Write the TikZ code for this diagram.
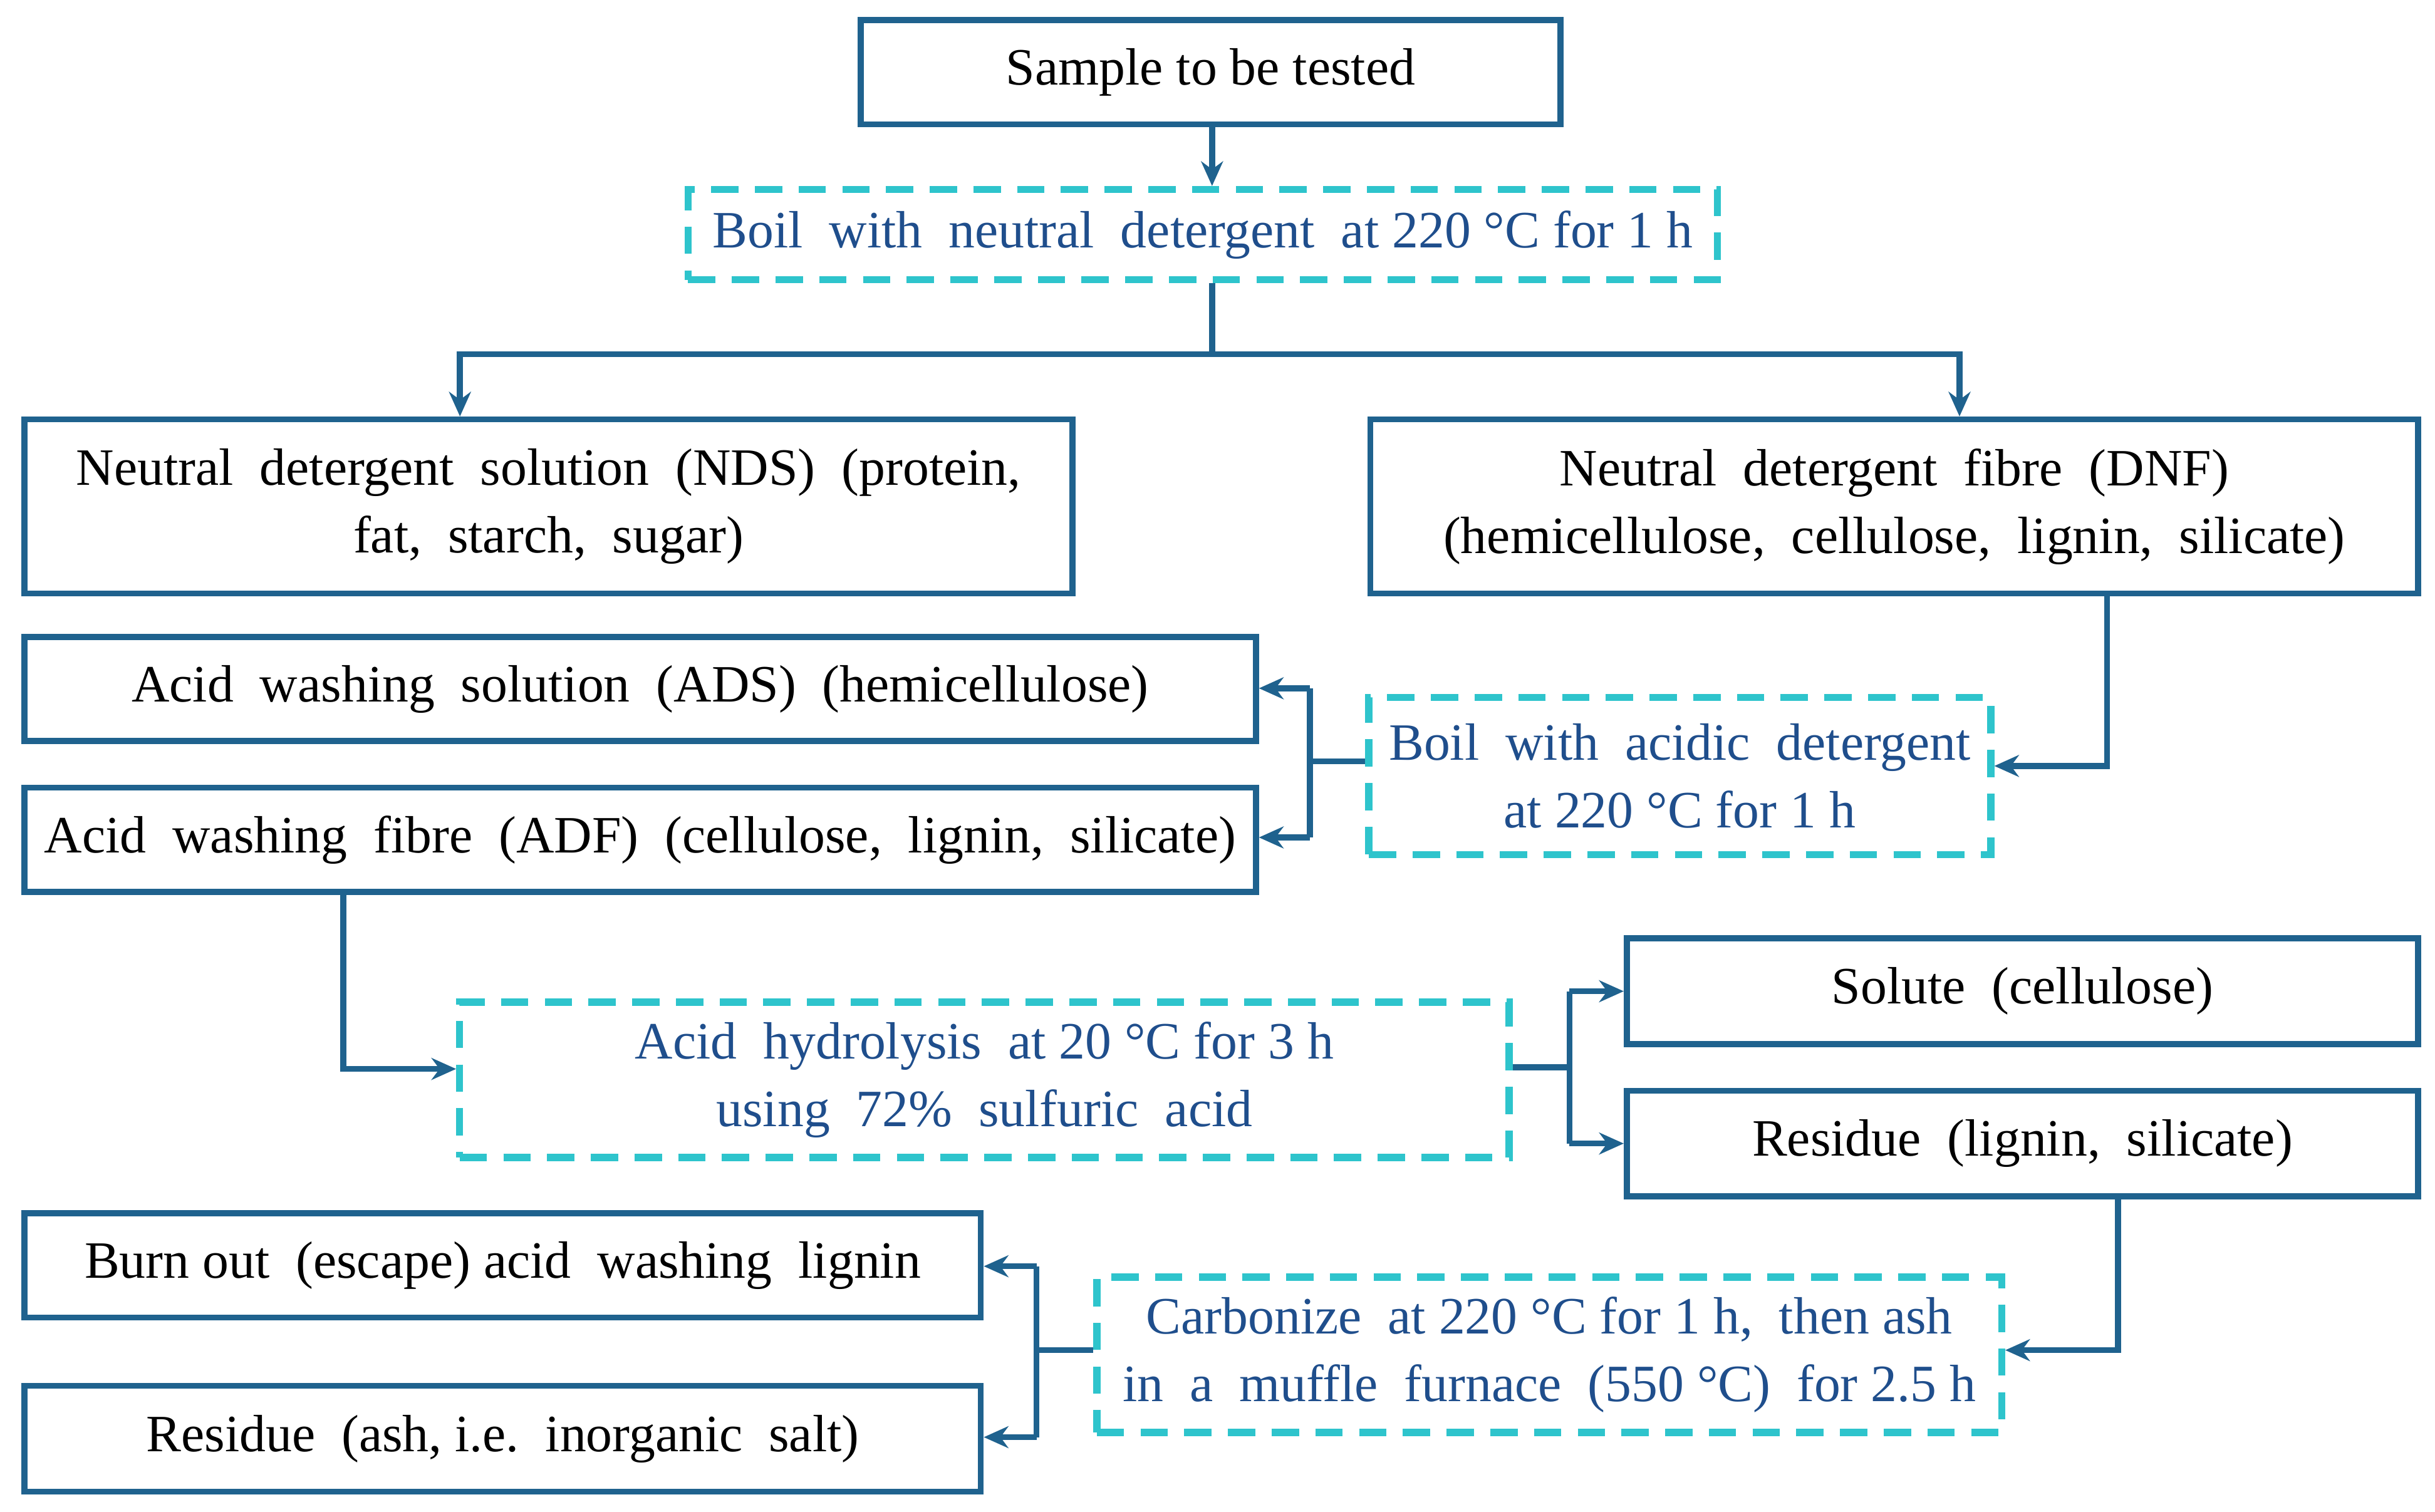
\documentclass[tikz,border=0pt]{standalone}
\usepackage{fontspec}
\setmainfont{Liberation Serif}
\usetikzlibrary{arrows.meta}
\definecolor{ln}{HTML}{1F628E}
\definecolor{dsh}{HTML}{2EC4CC}
\definecolor{tx}{HTML}{1F4E8C}
\begin{document}
\begin{tikzpicture}[x=0.01cm,y=-0.01cm,
 box/.style={draw=ln,line width=1.1pt,inner sep=0pt,align=center,font=\fontsize{9.6}{12.4}\selectfont},
 dbox/.style={draw=dsh,line width=1.3pt,dash pattern=on 5pt off 3pt,inner sep=0pt,align=center,text=tx,font=\fontsize{9.6}{12.4}\selectfont},
 con/.style={draw=ln,line width=1.1pt},
 arr/.style={con,-{Stealth[length=4.5pt,width=4pt]}}]
\useasboundingbox (0,0) rectangle (1567,973);
\node[box,minimum width=4.5cm,minimum height=0.67cm] (s) at (779,46.5) {Sample to be tested};
\node[dbox,minimum width=6.62cm,minimum height=0.58cm] (b1) at (774,151) {Boil\ \ with\ \ neutral\ \ detergent\ \ at 220 °C for 1 h};
\node[box,minimum width=6.74cm,minimum height=1.12cm] (nds) at (353,326) {Neutral\ \ detergent\ \ solution\ \ (NDS)\ \ (protein,\\fat,\ \ starch,\ \ sugar)};
\node[box,minimum width=6.74cm,minimum height=1.12cm] (dnf) at (1219,326) {Neutral\ \ detergent\ \ fibre\ \ (DNF)\\(hemicellulose,\ \ cellulose,\ \ lignin,\ \ silicate)};
\node[box,minimum width=7.92cm,minimum height=0.67cm] (ads) at (412,443.5) {Acid\ \ washing\ \ solution\ \ (ADS)\ \ (hemicellulose)};
\node[box,minimum width=7.92cm,minimum height=0.67cm] (adf) at (412,540.5) {Acid\ \ washing\ \ fibre\ \ (ADF)\ \ (cellulose,\ \ lignin,\ \ silicate)};
\node[dbox,minimum width=4.0cm,minimum height=1.01cm] (b2) at (1081,499.5) {Boil\ \ with\ \ acidic\ \ detergent\\at 220 °C for 1 h};
\node[box,minimum width=5.09cm,minimum height=0.68cm] (sol) at (1301.5,638) {Solute\ \ (cellulose)};
\node[box,minimum width=5.09cm,minimum height=0.68cm] (res) at (1301.5,736) {Residue\ \ (lignin,\ \ silicate)};
\node[dbox,minimum width=6.75cm,minimum height=1.0cm] (hy) at (633.5,695) {Acid\ \ hydrolysis\ \ at 20 °C for 3 h\\using\ \ 72\%\ \ sulfuric\ \ acid};
\node[box,minimum width=6.15cm,minimum height=0.67cm] (bo) at (323.5,814.5) {Burn out\ \ (escape)\ acid\ \ washing\ \ lignin};
\node[box,minimum width=6.15cm,minimum height=0.68cm] (ra) at (323.5,926) {Residue\ \ (ash,\ i.e.\ \ inorganic\ \ salt)};
\node[dbox,minimum width=5.82cm,minimum height=1.0cm] (ca) at (997,872) {Carbonize\ \ at 220 °C for 1 h,\ \ then ash\\in\ \ a\ \ muffle\ \ furnace\ \ (550 °C)\ \ for 2.5 h};
\coordinate (j1) at (780,228);
\coordinate (j2) at (843,490);
\coordinate (j3) at (1010,687);
\coordinate (j4) at (667,869);
\draw[arr] (s.south -| j1) -- (b1.north -| j1);
\draw[con] (b1.south -| j1) -- (j1);
\draw[arr] (j1) -| (nds.north -| 296,0);
\draw[arr] (j1) -| (dnf.north -| 1261,0);
\draw[arr] (dnf.south -| 1356,0) |- (b2.east |- 0,493);
\draw[con] (b2.west |- j2) -- (j2);
\draw[con] (843,443) -- (843,539);
\draw[arr] (843,443) -- (ads.east |- 0,443);
\draw[arr] (843,539) -- (adf.east |- 0,539);
\draw[arr] (adf.south -| 221,0) |- (hy.west |- 0,688);
\draw[con] (hy.east |- j3) -- (j3);
\draw[con] (1010,638) -- (1010,736);
\draw[arr] (1010,638) -- (sol.west);
\draw[arr] (1010,736) -- (res.west);
\draw[arr] (res.south -| 1363,0) |- (ca.east |- j4);
\draw[con] (ca.west |- j4) -- (j4);
\draw[con] (667,815) -- (667,925);
\draw[arr] (667,815) -- (bo.east |- 0,815);
\draw[arr] (667,925) -- (ra.east |- 0,925);
\end{tikzpicture}
\end{document}
